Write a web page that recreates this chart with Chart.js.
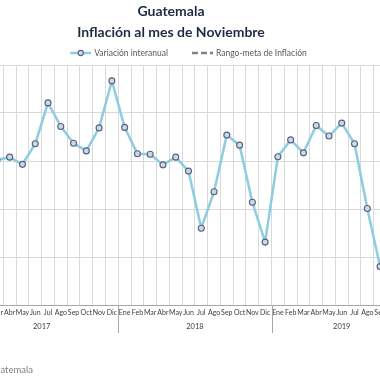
<!DOCTYPE html>
<html>
<head>
<meta charset="utf-8">
<script src="https://cdn.jsdelivr.net/npm/chart.js@4.4.1/dist/chart.umd.min.js"></script>
<style>
  html, body { margin: 0; padding: 0; background: #ffffff; overflow: hidden; width: 380px; height: 380px; }
  #wrap { position: absolute; left: -70px; top: 0; width: 490px; height: 380px; }
  #source { position: absolute; right: 347px; top: 364px; font: 9.5px Lato, sans-serif; color: #7f7f7f; white-space: nowrap; }
</style>
</head>
<body>
<div id="wrap"><canvas id="c" width="490" height="380"></canvas></div>
<div id="source">Fuente: Banco de Guatemala</div>
<script>
// ---- data ----
const titleLines = ['Guatemala', 'Inflación al mes de Noviembre'];
const months = ['Ene','Feb','Mar','Abr','May','Jun','Jul','Ago','Sep','Oct','Nov','Dic',
                'Ene','Feb','Mar','Abr','May','Jun','Jul','Ago','Sep','Oct','Nov','Dic',
                'Ene','Feb','Mar','Abr','May','Jun','Jul','Ago','Sep','Oct','Nov'];
const years = ['2017', '2018', '2019'];
const yearStartIndex = [0, 12, 24];
const yearEndIndex = [11, 23, 34];
const inflation = [4.37, 4.48, 4.02, 4.08, 3.93, 4.36, 5.21, 4.72, 4.37, 4.21, 4.69, 5.67,
                   4.70, 4.15, 4.14, 3.92, 4.08, 3.79, 2.60, 3.36, 4.54, 4.33, 3.14, 2.31,
                   4.09, 4.44, 4.17, 4.74, 4.52, 4.79, 4.36, 3.01, 1.80, 2.17, 2.26];
const targetUpper = 5;
const targetLower = 3;
const seriesLabel = 'Variación interanual';
const targetLabel = 'Rango-meta de Inflación';

const FONT = 'Lato, "Open Sans", sans-serif';
const lastIdx = months.length - 1;

const legendPlugin = {
  id: 'customLegend',
  afterDraw(chart) {
    const ctx = chart.ctx;
    const ca = chart.chartArea;
    ctx.save();
    ctx.font = '8.5px ' + FONT;
    const t1 = seriesLabel, t2 = targetLabel;
    const w1 = ctx.measureText(t1).width, w2 = ctx.measureText(t2).width;
    const sample = 21, gap = 3, spacing = 24;
    const total = sample + gap + w1 + spacing + sample + gap + w2;
    let x = (ca.left + ca.right) / 2 - total / 2;
    const y = 53;
    // item 1
    ctx.strokeStyle = '#8ccde0'; ctx.lineWidth = 2.5; ctx.setLineDash([]);
    ctx.beginPath(); ctx.moveTo(x, y); ctx.lineTo(x + sample, y); ctx.stroke();
    ctx.beginPath(); ctx.arc(x + sample / 2, y, 2.6, 0, Math.PI * 2);
    ctx.fillStyle = '#d0d6e6'; ctx.fill();
    ctx.lineWidth = 1.1; ctx.strokeStyle = '#52627f'; ctx.stroke();
    x += sample + gap;
    ctx.fillStyle = '#595959'; ctx.textBaseline = 'middle'; ctx.textAlign = 'left';
    ctx.fillText(t1, x, y + 0.5);
    x += w1 + spacing;
    // item 2
    ctx.strokeStyle = '#808080'; ctx.lineWidth = 2.5; ctx.setLineDash([6, 3]);
    ctx.beginPath(); ctx.moveTo(x, y); ctx.lineTo(x + sample, y); ctx.stroke();
    ctx.setLineDash([]);
    x += sample + gap;
    ctx.fillText(t2, x, y + 0.5);
    ctx.restore();
  }
};

const yearPlugin = {
  id: 'yearAxis',
  afterDraw(chart) {
    const ctx = chart.ctx;
    const xs = chart.scales.x;
    const ca = chart.chartArea;
    ctx.save();
    const half = (xs.getPixelForValue(1) - xs.getPixelForValue(0)) / 2;
    ctx.strokeStyle = '#a6a6a6'; ctx.lineWidth = 1;
    const seps = [xs.getPixelForValue(0) - half];
    yearEndIndex.forEach(i => seps.push(xs.getPixelForValue(i) + half));
    seps.forEach(px => {
      ctx.beginPath(); ctx.moveTo(Math.round(px) + 0.5, ca.bottom); ctx.lineTo(Math.round(px) + 0.5, ca.bottom + 28); ctx.stroke();
    });
    ctx.font = '7.5px ' + FONT; ctx.fillStyle = '#404040';
    ctx.textAlign = 'center'; ctx.textBaseline = 'middle';
    years.forEach((yr, k) => {
      const cx = (xs.getPixelForValue(yearStartIndex[k]) + xs.getPixelForValue(yearEndIndex[k])) / 2;
      ctx.fillText(yr, cx, ca.bottom + 22);
    });
    ctx.restore();
  }
};

new Chart(document.getElementById('c'), {
  type: 'line',
  data: {
    labels: months,
    datasets: [
      {
        label: seriesLabel,
        data: inflation,
        borderColor: '#8ccde0',
        borderWidth: 2.5,
        pointRadius: 3,
        pointBorderWidth: 1.1,
        pointBorderColor: '#52627f',
        pointBackgroundColor: '#d0d6e6',
        tension: 0,
        fill: false
      },
      {
        label: targetLabel,
        data: [{x: 0, y: targetUpper}, {x: lastIdx, y: targetUpper}],
        borderColor: '#808080', borderWidth: 2.5, borderDash: [6, 3],
        pointRadius: 0, fill: false
      },
      {
        label: targetLabel,
        data: [{x: 0, y: targetLower}, {x: lastIdx, y: targetLower}],
        borderColor: '#808080', borderWidth: 2.5, borderDash: [6, 3],
        pointRadius: 0, fill: false
      }
    ]
  },
  options: {
    responsive: false,
    animation: false,
    events: [],
    layout: { padding: { left: 0, right: 8, top: 0, bottom: 61 } },
    plugins: {
      legend: { display: false },
      tooltip: { enabled: false },
      title: {
        display: true,
        text: titleLines,
        color: '#1f2a44',
        font: { family: FONT, size: 14, weight: 'bold', lineHeight: 1.5 },
        padding: { top: 1, bottom: 22 }
      }
    },
    scales: {
      x: {
        type: 'category',
        offset: true,
        grid: { offset: true, color: '#d9d9d9', drawTicks: false },
        border: { display: true, color: '#a6a6a6' },
        ticks: { color: '#404040', font: { family: FONT, size: 7 }, padding: 4, maxRotation: 0, autoSkip: false },
        afterFit(s) { s.height = 14; }
      },
      y: {
        min: 1, max: 6,
        grid: { color: '#d9d9d9', drawTicks: false },
        border: { display: false },
        ticks: { display: false, stepSize: 1 },
        afterFit(s) { s.width = 35; }
      }
    }
  },
  plugins: [legendPlugin, yearPlugin]
});
</script>
</body>
</html>
